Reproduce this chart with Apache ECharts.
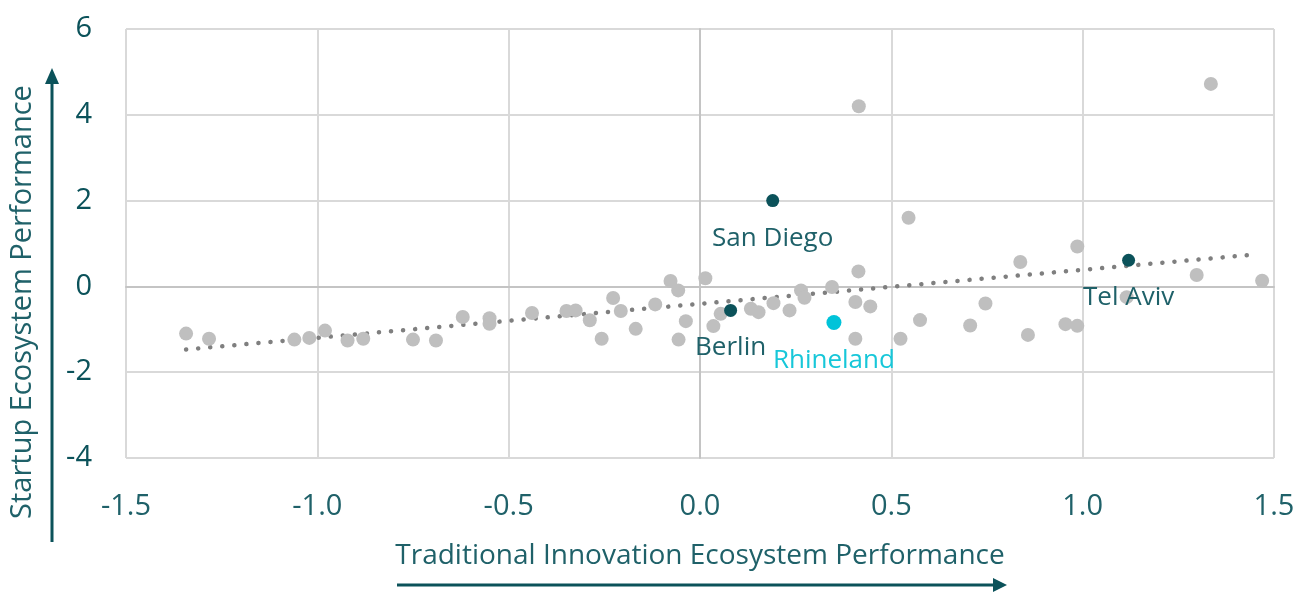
<!DOCTYPE html>
<html>
<head>
    <meta http-equiv="Content-Type" content="text/html; charset=UTF-8">
    <script type="text/javascript" src="https://cdn.jsdelivr.net/npm/echarts@6/dist/echarts.min.js" charset="utf-8"></script>
    <style>
        html, body { margin: 0; padding: 0; background: #fff; }
    </style>
</head>
<body>
<div id="main" style="width: 1314px;height:592px;"></div>
<script>
    // regions (grey dots): [traditional, startup]
    var otherX = [-1.343, -1.283, -1.06, -1.021, -0.98, -0.921, -0.88, -0.75, -0.69, -0.62, -0.55, -0.55,
        -0.439, -0.349, -0.325, -0.288, -0.257, -0.227, -0.207, -0.168, -0.117, -0.077, -0.057, -0.037, -0.056,
        0.014, 0.035, 0.054, 0.133, 0.153, 0.192, 0.234, 0.264, 0.273, 0.345, 0.414, 0.406, 0.445, 0.406, 0.524,
        0.415, 0.545, 0.575, 0.706, 0.746, 0.837, 0.857, 0.955, 0.986, 0.986, 1.115, 1.298, 1.469, 1.335];
    var otherY = [-1.10, -1.22, -1.24, -1.20, -1.03, -1.26, -1.22, -1.24, -1.26, -0.715, -0.74, -0.87,
        -0.62, -0.575, -0.56, -0.79, -1.22, -0.27, -0.575, -0.99, -0.42, 0.125, -0.093, -0.81, -1.24,
        0.19, -0.925, -0.64, -0.52, -0.60, -0.39, -0.56, -0.093, -0.265, -0.015, 0.35, -0.365, -0.466, -1.22, -1.22,
        4.20, 1.60, -0.785, -0.91, -0.40, 0.57, -1.13, -0.88, -0.92, 0.93, -0.25, 0.265, 0.13, 4.72];

    // highlighted regions
    var hiNames = ['San Diego', 'Berlin', 'Tel Aviv'];
    var hiX = [0.19, 0.08, 1.12];
    var hiY = [2.00, -0.56, 0.61];

    var rhinelandX = [0.35];
    var rhinelandY = [-0.84];

    // linear trend
    var trendX = [-1.343, 1.446];
    var trendY = [-1.47, 0.74];

    var xTicks = ['-1.5', '-1.0', '-0.5', '0.0', '0.5', '1.0', '1.5'];

    var teal = '#0b525a';
    var tealText = '#1f6169';
    var cyan = '#17c7d9';
    var font = '"Open Sans", sans-serif';

    function zip(a, b) {
        var out = [];
        for (var i = 0; i < a.length; i++) out.push([a[i], b[i]]);
        return out;
    }

    var hiData = [];
    for (var i = 0; i < hiX.length; i++) {
        hiData.push({ name: hiNames[i], value: [hiX[i], hiY[i]] });
    }

    var myChart = echarts.init(document.getElementById('main'));
    myChart.setOption({
        animation: false,
        textStyle: { fontFamily: font },
        grid: { left: 126, right: 40, top: 29, bottom: 134 },
        xAxis: {
            type: 'value',
            min: -1.5, max: 1.5, interval: 0.5,
            axisLine: { show: true, onZero: true, lineStyle: { color: '#c4c4c4', width: 2 } },
            axisTick: { show: false },
            splitLine: { show: true, lineStyle: { color: '#d9d9d9', width: 2 } },
            axisLabel: {
                margin: 34, fontSize: 29, color: tealText, fontFamily: font,
                formatter: function (v) { return xTicks[Math.round((v + 1.5) / 0.5)]; }
            }
        },
        yAxis: {
            type: 'value',
            min: -4, max: 6, interval: 2,
            axisLine: { show: true, onZero: true, lineStyle: { color: '#c4c4c4', width: 2 } },
            axisTick: { show: false },
            splitLine: { show: true, lineStyle: { color: '#d9d9d9', width: 2 } },
            axisLabel: { margin: 34, fontSize: 29, color: teal, fontFamily: font }
        },
        series: [
            {
                type: 'line',
                data: zip(trendX, trendY),
                symbol: 'none',
                lineStyle: { color: '#7f7f7f', width: 4.5, type: [0.1, 12], cap: 'round' },
                z: 1
            },
            {
                type: 'scatter',
                data: zip(otherX, otherY),
                symbolSize: 14,
                itemStyle: { color: '#bfbfbf', opacity: 1 },
                z: 2
            },
            {
                type: 'scatter',
                data: hiData,
                symbolSize: 13,
                itemStyle: { color: teal, opacity: 1 },
                label: {
                    show: true, position: 'bottom', distance: 18,
                    formatter: '{b}', fontSize: 26, color: tealText, fontFamily: font
                },
                z: 4
            },
            {
                type: 'scatter',
                data: [{ name: 'Rhineland', value: [rhinelandX[0], rhinelandY[0]] }],
                symbolSize: 15,
                itemStyle: { color: '#00c3d9', opacity: 1 },
                label: {
                    show: true, position: 'bottom', distance: 18,
                    formatter: '{b}', fontSize: 26, color: cyan, fontFamily: font
                },
                z: 4
            }
        ],
        graphic: [
            {
                type: 'text', x: 700, y: 556,
                style: { text: 'Traditional Innovation Ecosystem Performance', font: '28px ' + font, fill: tealText, align: 'center', verticalAlign: 'middle' }
            },
            {
                type: 'line', shape: { x1: 397, y1: 585, x2: 995, y2: 585 },
                style: { stroke: teal, lineWidth: 3 }
            },
            {
                type: 'polygon', shape: { points: [[993, 578], [1007, 585], [993, 592]] },
                style: { fill: teal }
            },
            {
                type: 'text', rotation: Math.PI / 2,
                x: 23, y: 302,
                style: { text: 'Startup Ecosystem Performance', font: '29px ' + font, fill: tealText, align: 'center', verticalAlign: 'middle' }
            },
            {
                type: 'line', shape: { x1: 52, y1: 542, x2: 52, y2: 82 },
                style: { stroke: teal, lineWidth: 3 }
            },
            {
                type: 'polygon', shape: { points: [[45, 84], [52, 68], [59, 84]] },
                style: { fill: teal }
            }
        ]
    });
</script>
</body>
</html>
